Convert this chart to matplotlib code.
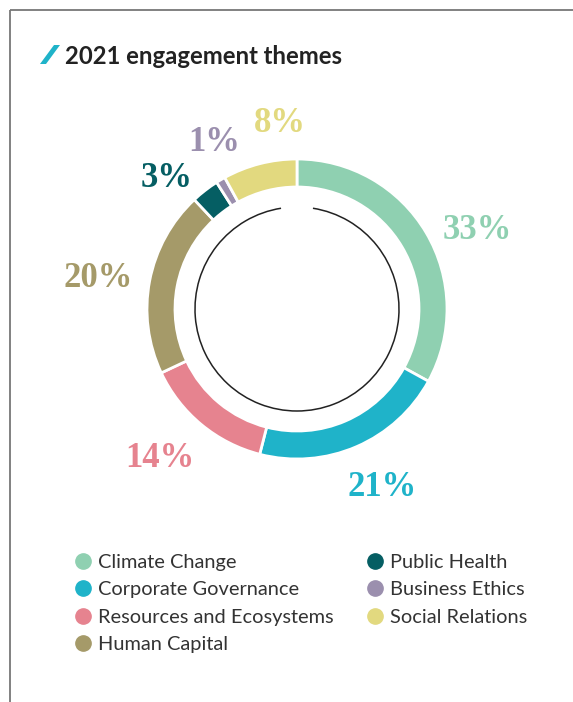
import matplotlib
matplotlib.use('Agg')
import numpy as np
import matplotlib.pyplot as plt
from matplotlib.patches import Arc, Polygon
from matplotlib.lines import Line2D

# data
themes = ['Climate Change', 'Corporate Governance', 'Resources and Ecosystems',
          'Human Capital', 'Public Health', 'Business Ethics', 'Social Relations']
shares = [33, 21, 14, 20, 3, 1, 8]
colors = ['#8fd0b1', '#1fb3c9', '#e6838f', '#a59a69', '#055e63', '#9b8fae', '#e2d97f']

# label placement tweaks (radius in units of outer radius, angle nudge in degrees)
label_r = [1.31, 1.32, 1.35, 1.34, 1.23, 1.24, 1.24]
label_nudge = [-7, 2, -3, 2, 7, -4, -9]

W, H = 573, 702
fig = plt.figure(figsize=(W / 100, H / 100), dpi=100)
ax = fig.add_axes([0, 0, 1, 1])

cx, cy, R = 297, H - 309, 150
wedges, _ = ax.pie(shares, colors=colors, startangle=90, counterclock=False,
                   center=(cx, cy), radius=R,
                   wedgeprops=dict(width=28, edgecolor='white', linewidth=2))

ax.set_xlim(0, W)
ax.set_ylim(0, H)
ax.set_aspect('equal')
ax.axis('off')

# thin inner ring with a gap at the top
ax.add_patch(Arc((cx, cy), 204, 204, theta1=99, theta2=441, color='#222222', lw=1.1))

# percentage labels
for w, s, c, r, dn in zip(wedges, shares, colors, label_r, label_nudge):
    ang = np.deg2rad((w.theta1 + w.theta2) / 2 + dn)
    ax.text(cx + r * R * np.cos(ang), cy + r * R * np.sin(ang), f'{s}%',
            color=c, fontsize=25, fontweight='bold', family='Liberation Serif',
            ha='center', va='center')

# frame lines
ax.plot([10, W], [H - 10, H - 10], color='#777777', lw=1.3, solid_capstyle='butt')
ax.plot([10, 10], [0, H - 10], color='#777777', lw=1.3, solid_capstyle='butt')

# title with slash
ax.add_patch(Polygon([(40, H - 64), (46, H - 64), (60, H - 45), (54, H - 45)],
                     closed=True, color='#1fb3c9', lw=0))
ax.text(65, H - 56, '2021 engagement themes', fontsize=17.2, fontweight='bold',
        family='Lato', color='#222222', va='center', ha='left')

# legend
handles = [Line2D([], [], marker='o', ls='', markersize=11, markerfacecolor=c,
                  markeredgecolor=c) for c in colors]
leg = ax.legend(handles, themes, ncol=2, loc='upper left',
                bbox_to_anchor=(62 / W, 1 - 546 / H), frameon=False,
                prop={'family': 'Lato', 'size': 14.4}, labelcolor='#333333',
                handletextpad=0.1, columnspacing=1.4, labelspacing=0.52,
                handlelength=1.3, borderaxespad=0)

fig.savefig('out.png', dpi=100)
